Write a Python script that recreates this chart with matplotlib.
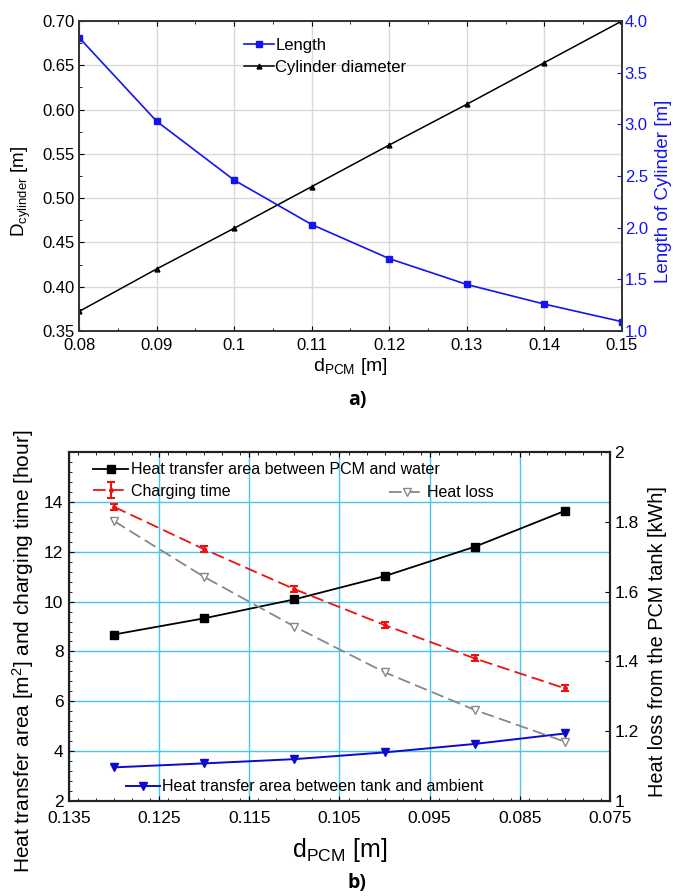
import numpy as np
import matplotlib
matplotlib.use("Agg")
import matplotlib.pyplot as plt
from matplotlib.ticker import MultipleLocator, FormatStrFormatter, FuncFormatter

plt.rcParams['font.family'] = ['Liberation Sans', 'DejaVu Sans']
plt.rcParams['mathtext.default'] = 'regular'

# panel a) data
d_pcm_a = [0.08, 0.09, 0.10, 0.11, 0.12, 0.13, 0.14, 0.15]
cyl_diameter = [0.372, 0.420, 0.466, 0.513, 0.560, 0.606, 0.653, 0.700]
cyl_length = [3.84, 3.03, 2.46, 2.03, 1.70, 1.45, 1.26, 1.09]

# panel b) data
d_pcm_b = [0.13, 0.12, 0.11, 0.10, 0.09, 0.08]
area_pcm_water = [8.68, 9.33, 10.09, 11.02, 12.20, 13.64]
charging_time = [13.80, 12.10, 10.50, 9.06, 7.72, 6.52]
charging_err = [0.12, 0.12, 0.12, 0.12, 0.12, 0.12]
heat_loss = [1.802, 1.642, 1.500, 1.369, 1.261, 1.170]
area_tank_amb = [3.35, 3.51, 3.68, 3.95, 4.29, 4.71]

BLUE_A = '#1414f0'

fig = plt.figure(figsize=(6.73, 8.96), dpi=100)

# ---------------- panel a
ax1 = fig.add_axes([0.1174, 0.6306, 0.8068, 0.3460])
ax1r = ax1.twinx()

l1, = ax1r.plot(d_pcm_a, cyl_length, color=BLUE_A, lw=1.2, marker='s', ms=4, label='Length')
l2, = ax1.plot(d_pcm_a, cyl_diameter, color='black', lw=1.1, marker='^', ms=3.5, label='Cylinder diameter')

ax1.set_xlim(0.08, 0.15)
ax1.set_ylim(0.35, 0.70)
ax1r.set_ylim(1.0, 4.0)
ax1.xaxis.set_major_locator(MultipleLocator(0.01))
ax1.xaxis.set_minor_locator(MultipleLocator(0.005))
ax1.yaxis.set_major_locator(MultipleLocator(0.05))
ax1.yaxis.set_minor_locator(MultipleLocator(0.025))
ax1r.yaxis.set_major_locator(MultipleLocator(0.5))
ax1.xaxis.set_major_formatter(FuncFormatter(lambda v, p: '%g' % round(v, 3) if abs(v - 0.1) < 1e-9 else '%.2f' % v))
ax1.yaxis.set_major_formatter(FormatStrFormatter('%.2f'))
ax1r.yaxis.set_major_formatter(FormatStrFormatter('%.1f'))
ax1.grid(True, which='major', color='#d9d9d9', lw=1)
ax1.set_axisbelow(True)
ax1.tick_params(axis='both', which='both', direction='in', top=True, labelsize=12)
ax1.tick_params(axis='x', pad=5)
ax1.tick_params(axis='y', pad=3, right=False)
ax1r.tick_params(axis='y', direction='in', colors=BLUE_A, labelsize=12, pad=2)
for a in (ax1, ax1r):
    for sp in a.spines.values():
        sp.set_linewidth(1.2)
        sp.set_color('#333333')

ax1.set_xlabel('d$_{PCM}$ [m]', fontsize=14)
ax1.xaxis.set_label_coords(0.5, -0.116)
ax1.xaxis.label.set_va('center')
ax1.set_ylabel('D$_{cylinder}$ [m]', fontsize=13.5)
ax1.yaxis.set_label_coords(-0.085, 0.45)
ax1r.set_ylabel('Length of Cylinder [m]', fontsize=13.5, color=BLUE_A)
ax1r.yaxis.set_label_coords(1.061, 0.45)

ax1.legend([l1, l2], ['Length', 'Cylinder diameter'], loc='upper left',
           bbox_to_anchor=(0.291, 0.968), frameon=False, fontsize=12,
           handlelength=1.8, handletextpad=0.1, labelspacing=0.45, borderaxespad=0)

fig.text(0.531, 0.5536, 'a)', fontsize=14, fontweight='bold', family='Open Sans',
         ha='center', va='center')

# ---------------- panel b
ax2 = fig.add_axes([0.1025, 0.106, 0.8039, 0.3895])
ax2r = ax2.twinx()

h1, = ax2.plot(d_pcm_b, area_pcm_water, color='black', lw=1.3, marker='s', ms=5.5,
               label='Heat transfer area between PCM and water')
h2 = ax2.errorbar(d_pcm_b, charging_time, yerr=charging_err, color='#ee1111', lw=1.3,
                  ls=(0, (7, 3)), marker='o', ms=2.5, capsize=3, capthick=1.5, elinewidth=1.5,
                  label='Charging time')
h4, = ax2.plot(d_pcm_b, area_tank_amb, color='#0a0ad0', lw=1.4, marker='v', ms=6,
               label='Heat transfer area between tank and ambient')
h3, = ax2r.plot(d_pcm_b, heat_loss, color='#888888', lw=1.3, ls=(0, (7, 3)), marker='v', ms=6,
                mfc='white', mec='#888888', label='Heat loss')

ax2.set_xlim(0.135, 0.075)
ax2.set_ylim(2, 16)
ax2r.set_ylim(1, 2)
ax2.xaxis.set_minor_locator(MultipleLocator(0.002))
ax2.set_xticks([0.135, 0.125, 0.115, 0.105, 0.095, 0.085, 0.075])
ax2.xaxis.set_major_formatter(FormatStrFormatter('%.3f'))
ax2.set_yticks([2, 4, 6, 8, 10, 12, 14])
ax2.yaxis.set_minor_locator(MultipleLocator(0.4))
ax2r.set_yticks([1, 1.2, 1.4, 1.6, 1.8, 2])
ax2r.yaxis.set_major_formatter(FuncFormatter(lambda v, p: '%g' % v))
ax2.grid(True, which='major', color='#45c6ea', lw=1)
ax2.set_axisbelow(True)
ax2.tick_params(axis='both', which='both', direction='in', top=True, right=False, labelsize=12.5)
ax2.tick_params(axis='x', pad=7)
ax2.tick_params(axis='y', pad=4)
ax2r.tick_params(axis='y', direction='in', labelsize=12.5, pad=3)
for a in (ax2, ax2r):
    for sp in a.spines.values():
        sp.set_linewidth(1.5)
        sp.set_color('#222222')

ax2.set_xlabel('d$_{PCM}$ [m]', fontsize=18)
ax2.xaxis.set_label_coords(0.5, -0.140)
ax2.xaxis.label.set_va('center')
ax2.set_ylabel('Heat transfer area [m$^2$] and charging time [hour]', fontsize=15)
ax2.yaxis.set_label_coords(-0.061, 0.43)
ax2r.set_ylabel('Heat loss from the PCM tank [kWh]', fontsize=14.3)
ax2r.yaxis.set_label_coords(1.070, 0.456)

ax2.legend([h1, h2], ['Heat transfer area between PCM and water', 'Charging time'],
           loc='upper left', bbox_to_anchor=(0.033, 0.989), frameon=False, fontsize=11.5,
           handlelength=2.2, handletextpad=0.15, labelspacing=0.4, borderaxespad=0)
ax2r.legend([h3], ['Heat loss'], loc='upper left', bbox_to_anchor=(0.58, 0.923),
            frameon=False, fontsize=11.5, handlelength=2.2, handletextpad=0.15, borderaxespad=0)
ax2r.add_artist(ax2r.get_legend())
ax2r.legend([h4], ['Heat transfer area between tank and ambient'], loc='upper left',
            bbox_to_anchor=(0.094, 0.080), frameon=False, fontsize=11.5,
            handlelength=2.1, handletextpad=0.15, borderaxespad=0)

fig.text(0.531, 0.0145, 'b)', fontsize=14, fontweight='bold', family='Open Sans',
         ha='center', va='center')

fig.savefig('out.png', dpi=100)
